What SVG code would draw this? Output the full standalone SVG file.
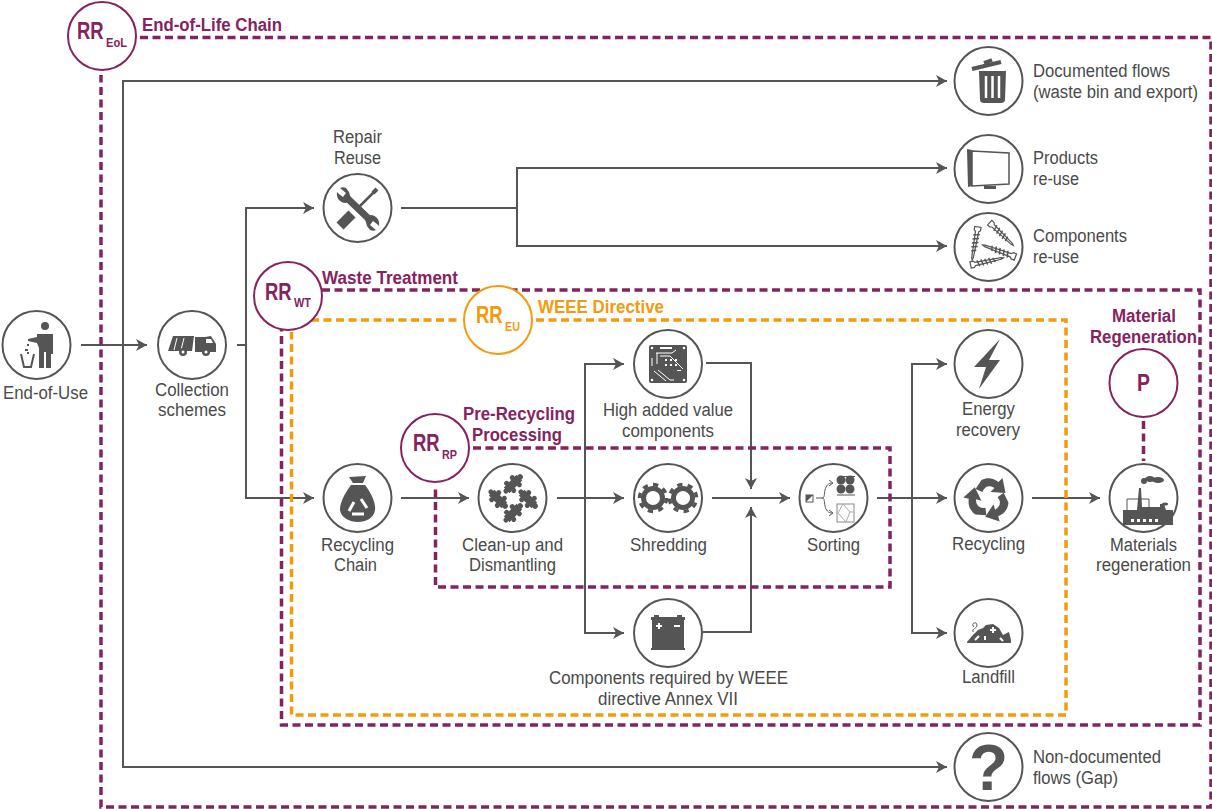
<svg xmlns="http://www.w3.org/2000/svg" xmlns:xlink="http://www.w3.org/1999/xlink" width="1212" height="809" viewBox="0 0 1212 809">
<style>
text{font-family:"Liberation Sans",Arial,sans-serif}
.l{font-size:18px;fill:#4a4a4a}
.p,.o{font-size:18px;font-weight:700}
.p{fill:#85235f}.o{fill:#f39a0d}
.rr{font-size:23px;font-weight:700}
.sub{font-size:13px;font-weight:700}
.n{fill:#fff;stroke:#555;stroke-width:2}
.c{fill:none;stroke:#555;stroke-width:2}
.a{marker-end:url(#arr)}
.dp{fill:none;stroke:#85235f;stroke-width:3.500;stroke-dasharray:8 4.500}
.do{fill:none;stroke:#f39a0d;stroke-width:3.500;stroke-dasharray:8 4.500}
.rp{fill:#fff;stroke:#85235f;stroke-width:2}
.ro{fill:#fff;stroke:#f39a0d;stroke-width:2}
.i{fill:#555}
.w{fill:#fff}
.s{fill:none;stroke:#555}
</style>
<defs>
<marker id="arr" markerUnits="userSpaceOnUse" markerWidth="12" markerHeight="12" refX="11" refY="6" orient="auto"><path d="M0 0L11 6L0 12L3 6Z" fill="#555"/></marker>
<g id="puz"><rect x="-9" y="-4" width="18" height="8" fill="#555"/><circle cx="-4" cy="-5" r="2.500" fill="#555"/><circle cx="4" cy="-5" r="2.500" fill="#555"/><circle cx="-4" cy="5" r="2.500" fill="#555"/><circle cx="4" cy="5" r="2.500" fill="#555"/><circle cx="10" cy="0" r="2.800" fill="#555"/><circle cx="-10" cy="0" r="2.500" fill="#555"/></g>
<g id="gear"><circle r="9.500" fill="none" stroke="#555" stroke-width="5"/><circle r="13.500" fill="none" stroke="#555" stroke-width="3.500" pathLength="16" stroke-dasharray="1 1"/></g>
<g id="screw"><path d="M-21 -4L-17 -4L-15 -2L18 -1L21 0L18 1L-15 2L-17 4L-21 4Z" fill="#fff" stroke="#555" stroke-width="1.500"/><path d="M-12 -4L-10 4M-7 -4L-5 4M-2 -4L0 4M3 -4L5 4M8 -3L10 3" stroke="#555" stroke-width="1.800"/></g>
<path id="rec" d="M-13 -10L-7 -19C-1 -22 5 -21 10 -17L14 -21L17 -6L2 -7L6 -11C1 -14 -4 -13 -6 -7Z" fill="#555"/>
</defs>

<g id="connectors">
<path class="c a" d="M81 345H147"/>
<path class="c a" d="M123 345V81H947"/>
<path class="c a" d="M123 345V767H947"/>
<path class="c" d="M237 345H246"/>
<path class="c a" d="M246 345V208H314"/>
<path class="c a" d="M246 345V498H314"/>
<path class="c" d="M401 208H517"/>
<path class="c a" d="M517 208V168H947"/>
<path class="c a" d="M517 208V246H947"/>
<path class="c a" d="M401 498H469"/>
<path class="c a" d="M557 498H624"/>
<path class="c a" d="M712 498H790"/>
<path class="c a" d="M585 498V364H624"/>
<path class="c a" d="M585 498V633H624"/>
<path class="c a" d="M706 363H751V489"/>
<path class="c a" d="M703 632H751V507"/>
<path class="c a" d="M877 498H947"/>
<path class="c a" d="M912 498V364H947"/>
<path class="c a" d="M912 498V633H947"/>
<path class="c a" d="M1032 498H1100"/>
</g>

<g id="boundaries">
<path class="dp" d="M140 37.500H1211V807H101V75"/>
<path class="dp" d="M322 290H1200V725H281.500V330"/>
<path class="do" d="M311 320H460M536 320H1066V715H291.500V332"/>
<path class="dp" d="M473 448H890V587H435.500V485"/>
<path class="dp" d="M1143.500 421V461"/>
</g>

<g id="rr-eol"><circle class="rp" cx="102" cy="36" r="34"/><text class="p rr" transform="translate(77 39) scale(.8 1)">RR</text><text class="p sub" x="106" y="47" textLength="21" lengthAdjust="spacingAndGlyphs">EoL</text></g>
<text class="p" x="142" y="31" textLength="140" lengthAdjust="spacingAndGlyphs">End-of-Life Chain</text>
<g id="rr-wt"><circle class="rp" cx="288" cy="296" r="34"/><text class="p rr" transform="translate(265 300) scale(.8 1)">RR</text><text class="p sub" x="294" y="307" textLength="17" lengthAdjust="spacingAndGlyphs">WT</text></g>
<text class="p" x="322" y="284" textLength="136" lengthAdjust="spacingAndGlyphs">Waste Treatment</text>
<g id="rr-eu"><circle class="ro" cx="498" cy="320" r="34"/><text class="o rr" transform="translate(476 323) scale(.8 1)">RR</text><text class="o sub" x="505" y="331" textLength="15" lengthAdjust="spacingAndGlyphs">EU</text></g>
<text class="o" x="538" y="313" textLength="126" lengthAdjust="spacingAndGlyphs">WEEE Directive</text>
<g id="rr-rp"><circle class="rp" cx="435" cy="448" r="34"/><text class="p rr" transform="translate(413 451) scale(.8 1)">RR</text><text class="p sub" x="442" y="459" textLength="15" lengthAdjust="spacingAndGlyphs">RP</text></g>
<text class="p" x="463" y="420" textLength="112" lengthAdjust="spacingAndGlyphs">Pre-Recycling</text>
<text class="p" x="472" y="441" textLength="90" lengthAdjust="spacingAndGlyphs">Processing</text>
<g id="rr-p"><circle class="rp" cx="1143.500" cy="383" r="34"/><text class="p" style="font-size:24px" x="1137" y="391" textLength="13" lengthAdjust="spacingAndGlyphs">P</text></g>
<text class="p" x="1112" y="322" textLength="64" lengthAdjust="spacingAndGlyphs">Material</text>
<text class="p" x="1090" y="343" textLength="107" lengthAdjust="spacingAndGlyphs">Regeneration</text>

<g id="end-of-use"><circle class="n" cx="36.500" cy="345" r="34"/>
<g class="i"><circle cx="45" cy="326" r="4"/><path d="M37 334H53V354H51V368H46V352H44V368H39V348L37 343L28 341L28 339L37 337Z"/><rect x="27" y="344" width="2" height="2"/><rect x="25" y="349" width="3" height="2"/><rect x="27" y="352" width="2" height="2"/></g>
<path d="M21 354L24 367H31L34 354" fill="none" stroke="#555" stroke-width="2"/>
<text class="l" x="3" y="399" textLength="85" lengthAdjust="spacingAndGlyphs">End-of-Use</text></g>

<g id="collection"><circle class="n" cx="192" cy="345" r="34"/>
<path class="i" d="M173 336H194L192 351H168ZM195 337H205L211 336L216 344V352H195Z"/><path class="w" d="M206 339H211L213 343H206Z"/><path d="M177 338L174 350M184 338L181 350" stroke="#fff"/><circle class="i" cx="183" cy="352" r="4"/><circle class="i" cx="206" cy="352" r="4"/><circle class="w" cx="183" cy="352" r="1.500"/><circle class="w" cx="206" cy="352" r="1.500"/>
<text class="l" x="155" y="396" textLength="74" lengthAdjust="spacingAndGlyphs">Collection</text><text class="l" x="158" y="416" textLength="68" lengthAdjust="spacingAndGlyphs">schemes</text></g>

<g id="repair"><circle class="n" cx="357.500" cy="208" r="34"/>
<path d="M376 190L358 208" stroke="#555" stroke-width="2.500"/><path d="M377 189L373 193" stroke="#555" stroke-width="4"/><path d="M340 226L352 214" stroke="#555" stroke-width="10"/>
<path d="M346 197L371 221" stroke="#555" stroke-width="7"/>
<path class="i" d="M340 188L346 193L343 197L339 194L337 192C336 197 339 203 346 203L351 199L349 192L346 188C344 187 342 187 340 188ZM376 230L370 225L373 221L377 224L379 226C380 221 377 215 370 215L365 219L367 226L370 230C372 231 374 231 376 230Z"/>
<text class="l" x="333" y="143" textLength="49" lengthAdjust="spacingAndGlyphs">Repair</text><text class="l" x="334" y="164" textLength="47" lengthAdjust="spacingAndGlyphs">Reuse</text></g>

<g id="recycling-chain"><circle class="n" cx="357.500" cy="498" r="34"/>
<path class="i" d="M349 477L366 476L363 483H353ZM351 485H365C372 494 376 504 375 510C374 518 366 522 358 522C350 522 341 518 340 510C340 502 345 493 351 485Z"/><path d="M349 511L354 502M361 499L367 508M364 514H352" fill="none" stroke="#fff" stroke-width="3"/>
<text class="l" x="321" y="551" textLength="73" lengthAdjust="spacingAndGlyphs">Recycling</text><text class="l" x="334" y="571" textLength="43" lengthAdjust="spacingAndGlyphs">Chain</text></g>

<g id="clean-up"><circle class="n" cx="512.500" cy="498" r="34"/>
<use xlink:href="#puz" transform="translate(513 484) rotate(-45)"/><use xlink:href="#puz" transform="translate(498 499) rotate(45)"/><use xlink:href="#puz" transform="translate(528 499) rotate(45)"/><use xlink:href="#puz" transform="translate(513 513) rotate(-45)"/>
<text class="l" x="462" y="551" textLength="101" lengthAdjust="spacingAndGlyphs">Clean-up and</text><text class="l" x="469" y="571" textLength="87" lengthAdjust="spacingAndGlyphs">Dismantling</text></g>

<g id="shredding"><circle class="n" cx="668" cy="498" r="34"/>
<use xlink:href="#gear" transform="translate(653 498)"/><use xlink:href="#gear" transform="translate(683 498) rotate(20)"/>
<text class="l" x="630" y="551" textLength="77" lengthAdjust="spacingAndGlyphs">Shredding</text></g>

<g id="high-value"><circle class="n" cx="668" cy="364" r="34"/>
<rect class="i" x="649" y="345" width="38" height="38" rx="2"/><g class="w"><circle cx="652" cy="348" r="1.300"/><circle cx="684" cy="348" r="1.300"/><circle cx="652" cy="380" r="1.300"/><circle cx="684" cy="380" r="1.300"/><rect x="660" y="347" width="12" height="2"/><rect x="665" y="359" width="2" height="2"/><rect x="670" y="359" width="2" height="2"/><rect x="675" y="359" width="2" height="2"/><rect x="665" y="364" width="2" height="2"/><rect x="670" y="364" width="2" height="2"/><rect x="675" y="364" width="2" height="2"/><rect x="677" y="370" width="4" height="1"/></g>
<path d="M656 353H672L676 350M657 353V364M654 371L666 381M658 370L670 380H674M660 356H670L683 369M652 358V366" fill="none" stroke="#fff" stroke-width="1"/>
<text class="l" x="603" y="416" textLength="130" lengthAdjust="spacingAndGlyphs">High added value</text><text class="l" x="622" y="437" textLength="92" lengthAdjust="spacingAndGlyphs">components</text></g>

<g id="annex-vii"><circle class="n" cx="668" cy="633" r="34"/>
<path class="i" d="M651 617H654V615H659V617H677V615H682V617H685V620H684V648H685V650H651V648H652V620H651Z"/><path d="M656 626H662M659 623V629M674 626H680" stroke="#fff" stroke-width="2"/>
<text class="l" x="549" y="684" textLength="239" lengthAdjust="spacingAndGlyphs">Components required by WEEE</text><text class="l" x="598" y="705" textLength="140" lengthAdjust="spacingAndGlyphs">directive Annex VII</text></g>

<g id="sorting"><circle class="n" cx="833.500" cy="498" r="34"/>
<rect x="806" y="495" width="7" height="7" fill="none" stroke="#555"/><path class="i" d="M806 495H813L806 502Z"/>
<path d="M816 498H822C825 498 824 494 825 490C826 486 828 483 832 483M822 498C825 498 824 502 825 506C826 510 828 513 832 513M829 480L833 483L829 486M829 510L833 513L829 516" class="s"/>
<g class="i"><circle cx="841" cy="480" r="4.500"/><circle cx="850" cy="480" r="4.500"/><circle cx="841" cy="489" r="4.500"/><circle cx="850" cy="489" r="4.500"/><rect x="843" y="476" width="12" height="1"/></g><path d="M837 495H855" stroke="#555"/>
<rect x="837" y="504" width="17" height="18" fill="#fff" stroke="#888"/><path d="M843 504L838 513L846 522M843 504L850 512L846 522M850 512H854" fill="none" stroke="#aaa"/>
<text class="l" x="807" y="551" textLength="53" lengthAdjust="spacingAndGlyphs">Sorting</text></g>

<g id="energy"><circle class="n" cx="988.500" cy="364" r="34"/>
<path class="i" d="M1000 339L974 367H986L979 389L1000 360H989Z"/>
<text class="l" x="962" y="415" textLength="53" lengthAdjust="spacingAndGlyphs">Energy</text><text class="l" x="956" y="436" textLength="64" lengthAdjust="spacingAndGlyphs">recovery</text></g>

<g id="recycling"><circle class="n" cx="988.500" cy="498" r="34"/>
<use xlink:href="#rec" transform="translate(988.500 499)"/><use xlink:href="#rec" transform="translate(988.500 499) rotate(120)"/><use xlink:href="#rec" transform="translate(988.500 499) rotate(240)"/>
<text class="l" x="952" y="550" textLength="73" lengthAdjust="spacingAndGlyphs">Recycling</text></g>

<g id="landfill"><circle class="n" cx="988.500" cy="633" r="34"/>
<path class="i" d="M967 642L972 636L978 630L983 628L986 625L993 624L999 628L1003 635L1009 632L1011 640V643H967Z"/><path d="M974 627C970 623 977 621 977 625C977 629 972 628 973 632" class="s"/><path d="M990 630H996M993 627V633M975 640L979 636M985 636V640M1000 638L1003 641" stroke="#fff" stroke-width="2"/>
<text class="l" x="962" y="683" textLength="53" lengthAdjust="spacingAndGlyphs">Landfill</text></g>

<g id="materials"><circle class="n" cx="1143.500" cy="498" r="34"/>
<path class="i" d="M1139 488L1141 488L1142 507H1160V504H1164L1166 510H1173V525H1123V510H1137Z"/><path class="w" d="M1131 519h3v3h-3zM1137 519h3v3h-3zM1143 519h3v3h-3zM1149 519h3v3h-3zM1155 519h3v3h-3z"/>
<path d="M1127 512V499H1149V510" class="s"/>
<ellipse class="i" cx="1150" cy="479" rx="5" ry="3"/><ellipse class="i" cx="1158" cy="480" rx="6" ry="3"/><circle class="i" cx="1144" cy="481" r="3"/><ellipse class="i" cx="1165" cy="504" rx="3" ry="1.500"/>
<text class="l" x="1110" y="551" textLength="67" lengthAdjust="spacingAndGlyphs">Materials</text><text class="l" x="1096" y="571" textLength="95" lengthAdjust="spacingAndGlyphs">regeneration</text></g>

<g id="documented"><circle class="n" cx="988.500" cy="81" r="34"/>
<path class="i" d="M979 71H1006L1005 100C1005 102 1003 103 1001 103H984C982 103 980 102 980 100Z"/><path d="M972 69L1001 62" stroke="#555" stroke-width="4"/><path d="M984 63L992 60" stroke="#555" stroke-width="4"/><path d="M986 76V98M992.500 76V98M999 76V98" stroke="#fff" stroke-width="2.500"/>
<text class="l" x="1033" y="77" textLength="137" lengthAdjust="spacingAndGlyphs">Documented flows</text><text class="l" x="1033" y="98" textLength="165" lengthAdjust="spacingAndGlyphs">(waste bin and export)</text></g>

<g id="products"><circle class="n" cx="988.500" cy="169" r="34"/>
<path class="i" d="M967 149L972 150V186L968 187ZM984 186H996V189H984Z"/><path d="M972 151L1009 153V184L972 186Z" fill="#fff" stroke="#555" stroke-width="1.500"/>
<text class="l" x="1033" y="164" textLength="65" lengthAdjust="spacingAndGlyphs">Products</text><text class="l" x="1033" y="185" textLength="46" lengthAdjust="spacingAndGlyphs">re-use</text></g>

<g id="components-reuse"><circle class="n" cx="988.500" cy="247" r="34"/>
<use xlink:href="#screw" transform="translate(975 243.500) rotate(100) scale(.8)"/><use xlink:href="#screw" transform="translate(1001.500 234) rotate(44) scale(.78)"/><use xlink:href="#screw" transform="translate(999 251) rotate(200) scale(.83)"/><use xlink:href="#screw" transform="translate(987 261.500) rotate(-12) scale(.8)"/>
<text class="l" x="1033" y="242" textLength="94" lengthAdjust="spacingAndGlyphs">Components</text><text class="l" x="1033" y="263" textLength="46" lengthAdjust="spacingAndGlyphs">re-use</text></g>

<g id="non-documented"><circle class="n" cx="988.500" cy="767" r="34"/>
<text x="988.500" y="790" text-anchor="middle" style="font-size:64px;font-weight:700;fill:#555">?</text>
<text class="l" x="1033" y="763" textLength="128" lengthAdjust="spacingAndGlyphs">Non-documented</text><text class="l" x="1033" y="784" textLength="85" lengthAdjust="spacingAndGlyphs">flows (Gap)</text></g>
</svg>
